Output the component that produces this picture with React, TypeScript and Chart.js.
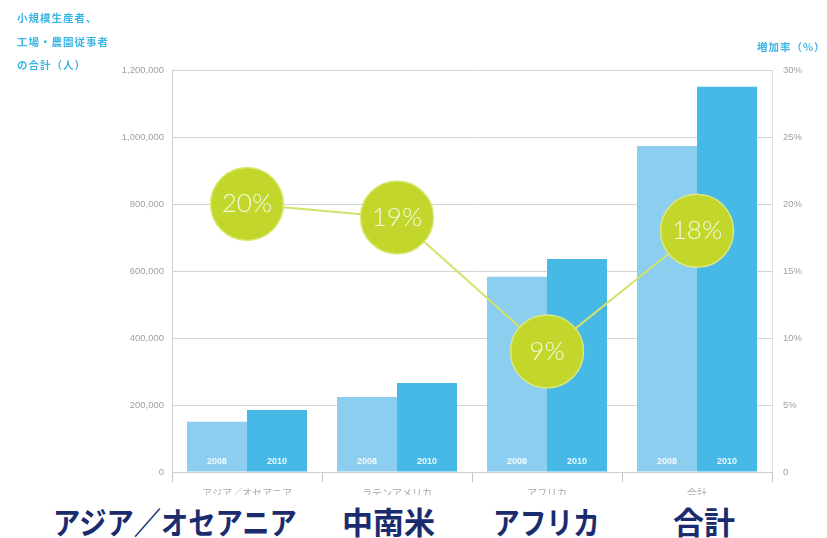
import React, { useEffect, useRef } from "react";
import { Chart, registerables } from "chart.js";

Chart.register(...registerables);

const categories = ["アジア／オセアニア", "ラテンアメリカ", "アフリカ", "合計"];
const years = ["2008", "2010"];
const workers2008 = [150000, 224000, 583000, 973000];
const workers2010 = [185000, 266000, 636000, 1150000];
const growthRate = [20, 19, 9, 18];
const bigLabels = ["アジア／オセアニア", "中南米", "アフリカ", "合計"];
const leftTitle = ["小規模生産者、", "工場・農園従事者", "の合計（人）"];
const rightTitle = "増加率（%）";

const labelPlugin = {
  id: "innerLabels",
  afterDatasetsDraw(chart: any) {
    const ctx = chart.ctx;
    const area = chart.chartArea;
    ctx.save();
    [0, 1].forEach((di) => {
      const meta = chart.getDatasetMeta(di);
      meta.data.forEach((bar: any) => {
        ctx.fillStyle = "rgba(255,255,255,0.9)";
        ctx.font = "600 9px 'Liberation Sans', sans-serif";
        ctx.textAlign = "center";
        ctx.textBaseline = "middle";
        ctx.fillText(years[di], bar.x, area.bottom - 10);
      });
    });
    const lineMeta = chart.getDatasetMeta(2);
    lineMeta.data.forEach((pt: any, i: number) => {
      ctx.fillStyle = "#f6f9dc";
      ctx.font = "300 26px Lato, sans-serif";
      ctx.textAlign = "center";
      ctx.textBaseline = "middle";
      ctx.fillText(`${growthRate[i]}%`, pt.x, pt.y);
    });
    ctx.restore();
  },
};

export default function App() {
  const ref = useRef<HTMLCanvasElement | null>(null);

  useEffect(() => {
    if (!ref.current) return;
    const chart = new Chart(ref.current, {
      type: "bar",
      data: {
        labels: categories,
        datasets: [
          {
            type: "bar",
            label: years[0],
            data: workers2008,
            backgroundColor: "#8ccef0",
            categoryPercentage: 0.8,
            barPercentage: 1.0,
            yAxisID: "y",
            order: 2,
          },
          {
            type: "bar",
            label: years[1],
            data: workers2010,
            backgroundColor: "#46b9e6",
            categoryPercentage: 0.8,
            barPercentage: 1.0,
            yAxisID: "y",
            order: 2,
          },
          {
            type: "line",
            label: rightTitle,
            data: growthRate,
            yAxisID: "y1",
            borderColor: "#d2e26a",
            borderWidth: 2,
            pointRadius: 36.5,
            pointHoverRadius: 36.5,
            pointBackgroundColor: "#c3d62c",
            pointBorderColor: "#dbe97c",
            pointBorderWidth: 1.5,
            tension: 0,
            order: 0,
          } as any,
        ],
      },
      options: {
        animation: false,
        responsive: false,
        maintainAspectRatio: false,
        layout: { padding: { top: 70, left: 0, right: 0, bottom: 0 } },
        plugins: {
          legend: { display: false },
          tooltip: { enabled: false },
          title: { display: false },
        },
        scales: {
          x: {
            grid: {
              offset: true,
              drawOnChartArea: false,
              drawTicks: true,
              tickLength: 10,
              color: "#c4c4c4",
            },
            border: { display: true, color: "#cfcfcf" },
            ticks: {
              color: "#a8a8a8",
              font: { size: 10, family: "'Noto Sans CJK JP', sans-serif" },
              padding: 5,
              maxRotation: 0,
            },
          },
          y: {
            position: "left",
            min: 0,
            max: 1200000,
            grid: { color: "#d4d4d4", drawTicks: false, lineWidth: 1 },
            border: { display: true, color: "#cccccc" },
            ticks: {
              stepSize: 200000,
              padding: 8,
              color: "#a0a0a0",
              font: { size: 9.5, family: "'Liberation Sans', sans-serif" },
              callback: (v: any) => Number(v).toLocaleString("en-US"),
            },
            afterFit(scale: any) {
              scale.width = 172;
            },
          },
          y1: {
            position: "right",
            min: 0,
            max: 30,
            grid: { drawOnChartArea: false, drawTicks: false },
            border: { display: true, color: "#d3e4ea" },
            ticks: {
              stepSize: 5,
              padding: 11,
              color: "#a0a0a0",
              font: { size: 9.5, family: "'Liberation Sans', sans-serif" },
              callback: (v: any) => (Number(v) === 0 ? "0" : `${v}%`),
            },
            afterFit(scale: any) {
              scale.width = 55;
            },
          },
        },
      } as any,
      plugins: [labelPlugin],
    });
    return () => chart.destroy();
  }, []);

  const bigPos = [
    { left: 53, scale: 0.88 },
    { left: 342, scale: 1 },
    { left: 493, scale: 0.86 },
    { left: 673, scale: 1 },
  ];

  return (
    <div
      style={{
        position: "fixed",
        left: 0,
        top: 0,
        width: 827,
        height: 538,
        background: "#ffffff",
        overflow: "hidden",
      }}
    >
      <div
        style={{
          position: "absolute",
          left: 0,
          top: 0,
          width: 827,
          height: 495,
          overflow: "hidden",
        }}
      >
        <canvas
          ref={ref}
          width={827}
          height={510}
          style={{ position: "absolute", left: 0, top: 0, width: 827, height: 510 }}
        />
      </div>
      {leftTitle.map((t, i) => (
        <div
          key={t}
          style={{
            position: "absolute",
            left: 17,
            top: 11 + i * 23.5,
            fontFamily: "'Noto Sans CJK JP', sans-serif",
            fontWeight: 700,
            fontSize: 10.5,
            letterSpacing: 1,
            lineHeight: "14px",
            color: "#3db5e2",
            whiteSpace: "nowrap",
          }}
        >
          {t}
        </div>
      ))}
      <div
        style={{
          position: "absolute",
          left: 757,
          top: 40,
          fontFamily: "'Noto Sans CJK JP', sans-serif",
          fontWeight: 700,
          fontSize: 10.5,
          letterSpacing: 1,
          lineHeight: "14px",
          color: "#3db5e2",
          whiteSpace: "nowrap",
        }}
      >
        {rightTitle}
      </div>
      {bigLabels.map((t, i) => (
        <div
          key={t}
          style={{
            position: "absolute",
            left: bigPos[i].left,
            top: 503,
            fontFamily: "'Noto Sans CJK JP', sans-serif",
            fontWeight: 700,
            fontSize: 31,
            lineHeight: "36px",
            color: "#1b2c6e",
            whiteSpace: "nowrap",
            transform: `scaleX(${bigPos[i].scale})`,
            transformOrigin: "left center",
          }}
        >
          {t}
        </div>
      ))}
    </div>
  );
}
